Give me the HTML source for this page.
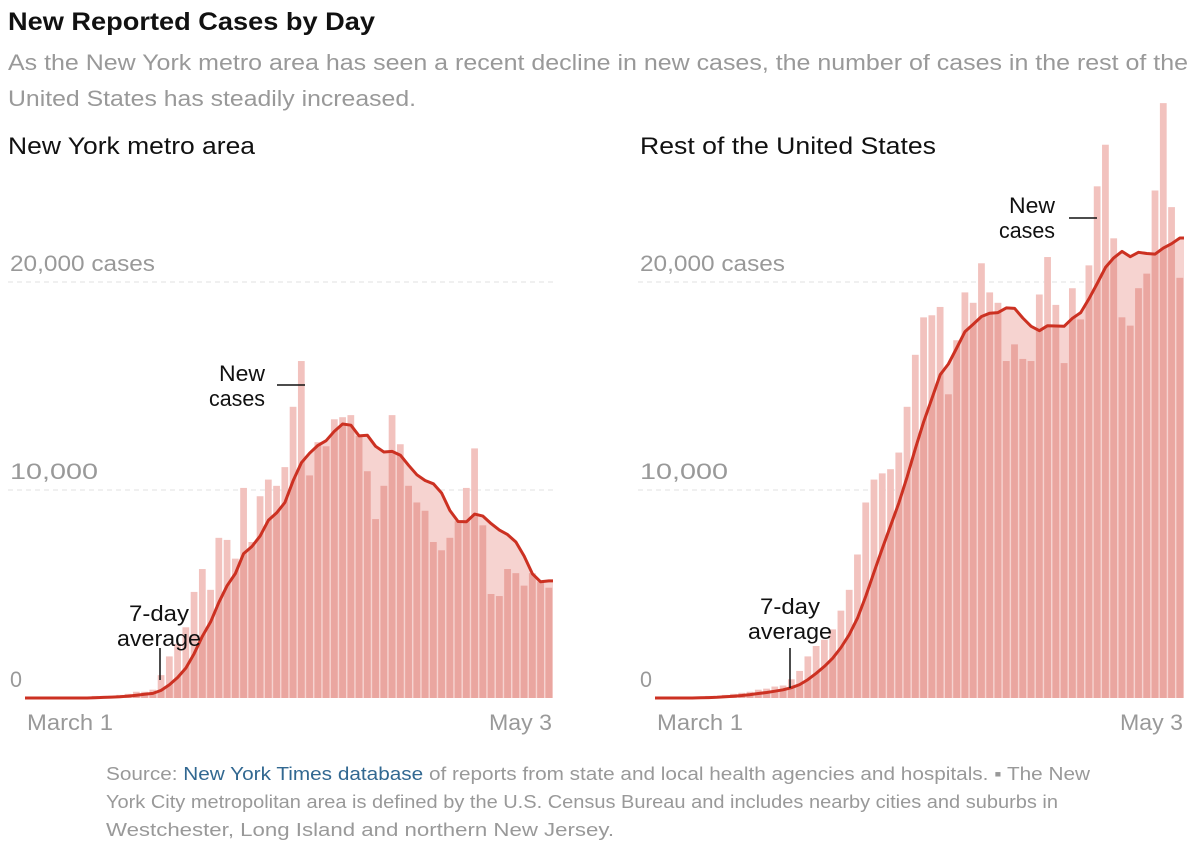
<!DOCTYPE html>
<html><head><meta charset="utf-8">
<style>
body{margin:0;background:#fff;font-family:"Liberation Sans",sans-serif;}
svg text{font-family:"Liberation Sans",sans-serif;}
</style></head>
<body>
<svg id="c" width="1200" height="847">
<text x="8" y="30" font-size="25" font-weight="bold" fill="#111" textLength="367" lengthAdjust="spacingAndGlyphs">New Reported Cases by Day</text>
<text x="8" y="70" font-size="22" fill="#999" textLength="1180" lengthAdjust="spacingAndGlyphs">As the New York metro area has seen a recent decline in new cases, the number of cases in the rest of the</text>
<text x="8" y="106" font-size="22" fill="#999" textLength="408" lengthAdjust="spacingAndGlyphs">United States has steadily increased.</text>
<text x="8" y="154" font-size="24" fill="#111" textLength="247" lengthAdjust="spacingAndGlyphs">New York metro area</text>
<text x="640" y="154" font-size="24" fill="#111" textLength="296" lengthAdjust="spacingAndGlyphs">Rest of the United States</text>
<text x="106" y="780" font-size="18" fill="#999" textLength="984" lengthAdjust="spacingAndGlyphs">Source: <tspan fill="#326891">New York Times database</tspan> of reports from state and local health agencies and hospitals.  ▪  The New</text>
<text x="106" y="808" font-size="18" fill="#999" textLength="952" lengthAdjust="spacingAndGlyphs">York City metropolitan area is defined by the U.S. Census Bureau and includes nearby cities and suburbs in</text>
<text x="106" y="836" font-size="18" fill="#999" textLength="508" lengthAdjust="spacingAndGlyphs">Westchester, Long Island and northern New Jersey.</text>
</svg>
<script>
const days = 64;
const nyCases = [0,0,0,0,0,0,0,0,0.1,0.1,0.1,0.15,0.2,0.3,0.3,0.4,1.1,2.0,2.6,3.4,5.1,6.2,5.2,7.7,7.6,6.7,10.1,7.5,9.7,10.5,10.2,11.1,14.0,16.2,10.7,12.3,12.1,13.4,13.5,13.6,12.6,10.9,8.6,10.2,13.6,12.2,10.2,9.4,9.0,7.5,7.1,7.7,8.5,10.1,12.0,8.3,5.0,4.9,6.2,6.0,5.4,6.0,5.6,5.3];
const usCases = [0,0,0,0,0,0.05,0.1,0.1,0.15,0.2,0.25,0.3,0.4,0.45,0.55,0.6,0.9,1.3,2.0,2.5,2.8,3.3,4.2,5.2,6.9,9.4,10.5,10.8,11.0,11.8,14.0,16.5,18.3,18.4,18.8,14.6,17.2,19.5,19.0,20.9,19.5,19.0,16.2,17.0,16.3,16.2,19.4,21.2,18.9,16.1,19.7,18.2,20.8,24.6,26.6,22.1,18.3,17.9,19.7,20.4,24.4,28.6,23.6,20.2];
const yTicks = [0,10,20];
const yTickLabels = ["0","10,000","20,000 cases"];
const yTickWidths = [12,88,145];
const xLabels = ["March 1","May 3"];

const svg = document.getElementById('c');
const NS = 'http://www.w3.org/2000/svg';
function mk(tag, attrs){const e=document.createElementNS(NS,tag);for(const k in attrs)e.setAttribute(k,attrs[k]);svg.appendChild(e);return e;}
function avg7(a){return a.map((v,i)=>{const s=a.slice(Math.max(0,i-6),i+1);return s.reduce((p,q)=>p+q,0)/s.length;});}

function panel(key, data, x0, x1, labelX){
  const base = 698, per = 20.8;
  const y = v => base - v*per;
  const bw = (x1-x0)/days;
  const xc = i => x0 + bw*(i+0.5);
  yTicks.forEach((t,k)=>{
    if(t>0){
      const g = mk('line',{x1:labelX,x2:x1,y1:y(t),y2:y(t),stroke:'#e2e2e2','stroke-dasharray':'5,4','stroke-width':1});
      
      
    }
    const tx = mk('text',{x:labelX+2,y:y(t)-11,'font-size':22,fill:'#999',textLength:yTickWidths[k],lengthAdjust:'spacingAndGlyphs'});
    tx.textContent = yTickLabels[k];
    
    
  });
  const av = avg7(data);
  let pts = av.map((v,i)=>xc(i).toFixed(1)+','+y(v).toFixed(1));
  const areaD = 'M'+x0+','+base+' L'+xc(0)+','+y(av[0])+' L'+pts.join(' L')+' L'+x1+','+y(av[days-1])+' L'+x1+','+base+' Z';
  const area = mk('path',{d:areaD,fill:'#f6d3d0'});
  
  
  const clip = mk('clipPath',{id:key+'clip'});
  const cp = document.createElementNS(NS,'path'); cp.setAttribute('d',areaD); clip.appendChild(cp);
  data.forEach((v,i)=>{
    const r = mk('rect',{x:x0+bw*i+0.7,y:y(v),width:bw-1.5,height:v*per,fill:'#f2c2be'});
    
    
    const r2 = mk('rect',{x:x0+bw*i+0.7,y:y(v),width:bw-1.5,height:v*per,fill:'#eaa6a0','clip-path':'url(#'+key+'clip)'});
    
    
  });
  const line = mk('polyline',{points:x0+','+y(av[0])+' '+pts.join(' ')+' '+x1+','+y(av[days-1]),fill:'none',stroke:'#cc3122','stroke-width':3,'stroke-linejoin':'round'});
  
  
  const l1 = mk('text',{x:x0+2,y:730,'font-size':22,fill:'#999',textLength:86,lengthAdjust:'spacingAndGlyphs'}); l1.textContent=xLabels[0];
  
  
  const l2 = mk('text',{x:x1-64,y:730,'font-size':22,fill:'#999',textLength:63,lengthAdjust:'spacingAndGlyphs'}); l2.textContent=xLabels[1];
  
  
}
panel('ny', nyCases, 25, 553, 8);
panel('us', usCases, 655, 1184, 638);

function ann(name, lines, widths, x, y0, anchor){
  lines.forEach((t,k)=>{
    const e = mk('text',{x:x,y:y0+k*25,'font-size':22,fill:'#111','text-anchor':anchor,textLength:widths[k],lengthAdjust:'spacingAndGlyphs'});
    e.textContent=t;
    
    
  });
}
function seg(name,a,b,c,d){const e=mk('line',{x1:a,y1:b,x2:c,y2:d,stroke:'#111','stroke-width':1.5});
  
  }
ann('ny-new-cases-annotation',['New','cases'],[46,56],265,381,'end');
seg('ny-new-cases-leader',277,385,305,385);
ann('ny-average-annotation',['7-day','average'],[60,84],159,621,'middle');
seg('ny-average-leader',160,648,160,680);
ann('us-new-cases-annotation',['New','cases'],[46,56],1055,213,'end');
seg('us-new-cases-leader',1069,218,1097,218);
ann('us-average-annotation',['7-day','average'],[60,84],790,614,'middle');
seg('us-average-leader',790,648,790,688);
</script>
</body></html>
